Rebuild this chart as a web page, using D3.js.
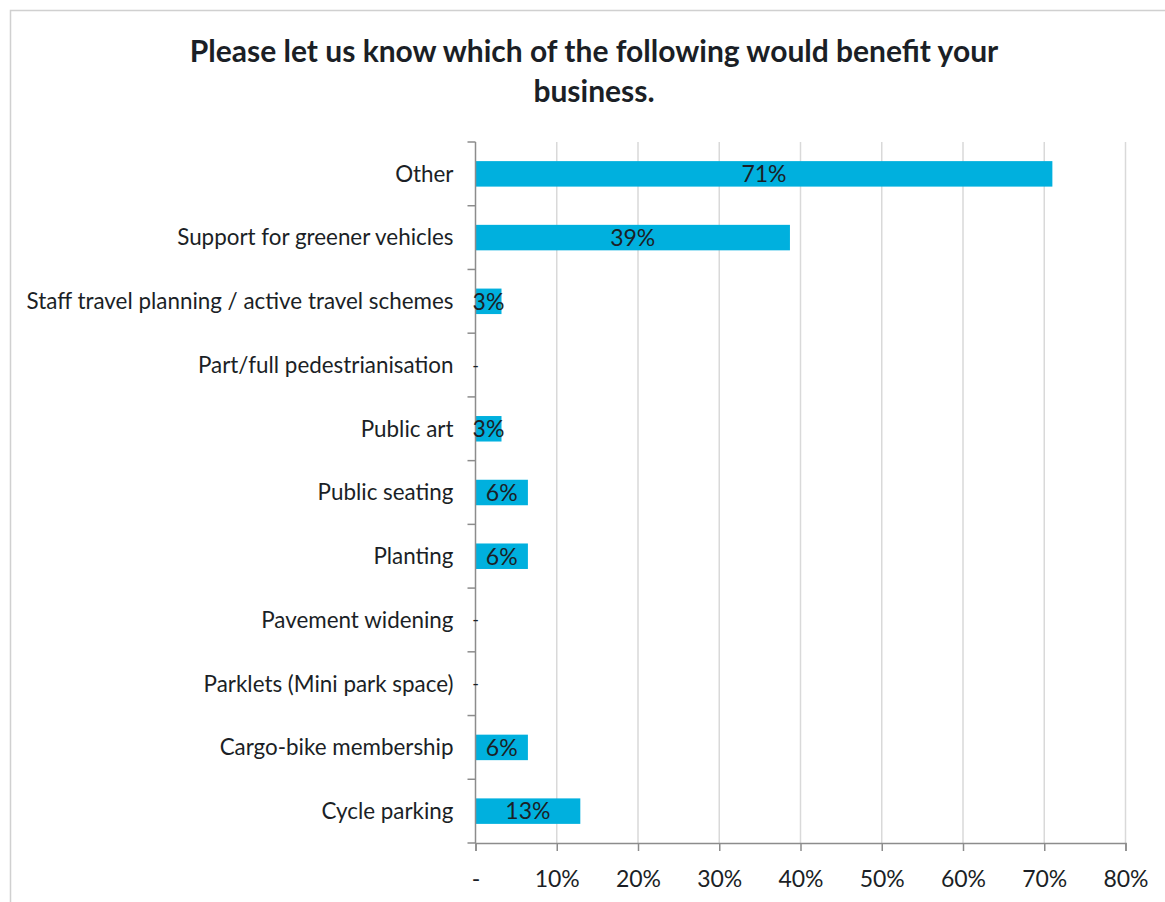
<!DOCTYPE html>
<html>
<head>
<meta charset="utf-8">
<script src="https://cdn.jsdelivr.net/npm/d3@7"></script>
<style>
  html, body { margin: 0; padding: 0; background: #fff; }
  svg { display: block; font-family: Lato, "Open Sans", sans-serif; }
</style>
</head>
<body>
<svg id="chart" width="1165" height="902"></svg>
<script>
// Survey answers (share of respondents), listed top to bottom
const categories = [
  "Other",
  "Support for greener vehicles",
  "Staff travel planning / active travel schemes",
  "Part/full pedestrianisation",
  "Public art",
  "Public seating",
  "Planting",
  "Pavement widening",
  "Parklets (Mini park space)",
  "Cargo-bike membership",
  "Cycle parking"
];
const values = [0.710, 0.387, 0.032, 0, 0.032, 0.0645, 0.0645, 0, 0, 0.0645, 0.129];
const xTicks = [0, 0.1, 0.2, 0.3, 0.4, 0.5, 0.6, 0.7, 0.8];
const titleLines = [
  "Please let us know which of the following would benefit your",
  "business."
];

const svg = d3.select("#chart");
const W = 1165, H = 902;
const margin = { top: 142, right: 40, bottom: 59, left: 475.5 };
const innerW = 1125.5 - margin.left;
const innerH = 843 - margin.top;

const textColor = "#1b1f26";
const barColor = "#00b0de";

// chart frame
svg.append("rect")
  .attr("x", 10.5).attr("y", 10.5)
  .attr("width", W + 10).attr("height", H + 10)
  .attr("fill", "none").attr("stroke", "#d0d0d0").attr("stroke-width", 1.5);

// title
svg.append("g").selectAll("text")
  .data(titleLines)
  .join("text")
  .attr("x", 594)
  .attr("y", (d, i) => 62 + i * 40)
  .attr("text-anchor", "middle")
  .attr("font-size", 30)
  .attr("font-weight", 700)
  .attr("fill", textColor)
  .text(d => d);

const g = svg.append("g").attr("transform", `translate(${margin.left},${margin.top})`);

const x = d3.scaleLinear().domain([0, 0.8]).range([0, innerW]);
const y = d3.scaleBand().domain(categories).range([0, innerH]).paddingInner(0.6).paddingOuter(0.3);

// vertical gridlines
g.append("g").selectAll("line")
  .data(xTicks.slice(1))
  .join("line")
  .attr("x1", d => x(d)).attr("x2", d => x(d))
  .attr("y1", 0).attr("y2", innerH)
  .attr("stroke", "#d9d9d9").attr("stroke-width", 1.5);

// bars
g.append("g").selectAll("rect")
  .data(categories)
  .join("rect")
  .attr("x", 0)
  .attr("y", c => y(c))
  .attr("width", (c, i) => x(values[i]))
  .attr("height", y.bandwidth())
  .attr("fill", barColor);

// x axis
const fmtX = d => d === 0 ? "-" : d3.format(".0%")(d);
const xAxis = g.append("g")
  .attr("transform", `translate(0,${innerH})`)
  .call(d3.axisBottom(x).tickValues(xTicks).tickFormat(fmtX).tickSize(8).tickPadding(20));
xAxis.select(".domain").attr("stroke", "#8c8c8c").attr("stroke-width", 1.5);
xAxis.selectAll(".tick line").attr("stroke", "#8c8c8c").attr("stroke-width", 1.5);
xAxis.selectAll(".tick text")
  .attr("font-size", 23).attr("fill", textColor)
  .attr("font-family", "Lato, 'Open Sans', sans-serif");

// y axis line with ticks between categories
const bounds = d3.range(categories.length + 1).map(i => i * innerH / categories.length);
g.append("line")
  .attr("x1", 0).attr("x2", 0).attr("y1", 0).attr("y2", innerH)
  .attr("stroke", "#8c8c8c").attr("stroke-width", 1.5);
g.append("g").selectAll("line")
  .data(bounds)
  .join("line")
  .attr("x1", -8).attr("x2", 0)
  .attr("y1", d => d).attr("y2", d => d)
  .attr("stroke", "#8c8c8c").attr("stroke-width", 1.5);

// category labels
g.append("g").selectAll("text")
  .data(categories)
  .join("text")
  .attr("x", -22)
  .attr("y", c => y(c) + y.bandwidth() / 2)
  .attr("dy", "0.35em")
  .attr("text-anchor", "end")
  .attr("font-size", 22.4)
  .attr("fill", textColor)
  .text(c => c);

// value labels centred in bars ("-" for zero)
g.append("g").selectAll("text")
  .data(categories)
  .join("text")
  .attr("x", (c, i) => values[i] === 0 ? 0 : x(values[i]) / 2)
  .attr("y", c => y(c) + y.bandwidth() / 2)
  .attr("dy", "0.36em")
  .attr("text-anchor", "middle")
  .attr("font-size", (c, i) => values[i] === 0 ? 18 : 23)
  .attr("fill", textColor)
  .text((c, i) => values[i] === 0 ? "-" : d3.format(".0%")(values[i]));
</script>
</body>
</html>
